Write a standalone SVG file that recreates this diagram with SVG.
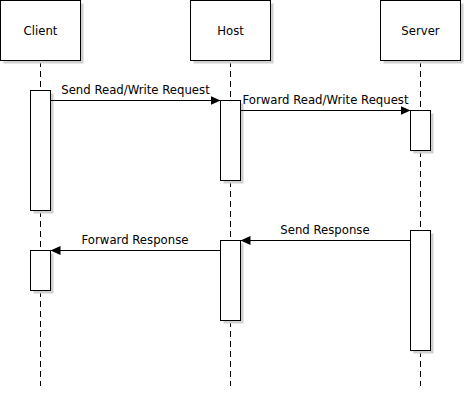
<svg xmlns="http://www.w3.org/2000/svg" width="465" height="405" viewBox="0 0 465 405">
<defs>
<marker id="arr" markerWidth="11" markerHeight="10" refX="10" refY="5" orient="auto" markerUnits="userSpaceOnUse">
<path d="M0,0.5 L10,5 L0,9.5 Z" fill="#000"/>
</marker>
<style>
.box{fill:#fff;stroke:#000;stroke-width:1}
.sh{fill:#d0d0d0;stroke:none}
.life{stroke:#000;stroke-width:1;stroke-dasharray:6 4;fill:none}
.msg{stroke:#000;stroke-width:1;fill:none;marker-end:url(#arr)}
.t{font-family:"DejaVu Sans",sans-serif;font-size:11.7px;fill:#000;text-anchor:middle}
</style>
</defs>
<rect width="465" height="405" fill="#fff"/>
<g id="lifelines">
<line class="life" x1="40.5" y1="61" x2="40.5" y2="386"/>
<line class="life" x1="230.5" y1="61" x2="230.5" y2="386"/>
<line class="life" x1="420.5" y1="61" x2="420.5" y2="386"/>
</g>
<g id="client">
<rect class="sh" x="3.5" y="3.5" width="80" height="60"/>
<rect class="box" x="0.5" y="0.5" width="80" height="60"/>
<text class="t" x="40.5" y="34.5">Client</text>
</g>
<g id="host">
<rect class="sh" x="193.5" y="3.5" width="80" height="60"/>
<rect class="box" x="190.5" y="0.5" width="80" height="60"/>
<text class="t" x="230.5" y="34.5">Host</text>
</g>
<g id="server">
<rect class="sh" x="383.5" y="3.5" width="80" height="60"/>
<rect class="box" x="380.5" y="0.5" width="80" height="60"/>
<text class="t" x="420.5" y="34.5">Server</text>
</g>
<g id="client-act1">
<rect class="sh" x="33.5" y="93.5" width="20" height="120"/>
<rect class="box" x="30.5" y="90.5" width="20" height="120"/>
</g>
<g id="client-act2">
<rect class="sh" x="33.5" y="253.5" width="20" height="40"/>
<rect class="box" x="30.5" y="250.5" width="20" height="40"/>
</g>
<g id="host-act1">
<rect class="sh" x="223.5" y="103.5" width="20" height="80"/>
<rect class="box" x="220.5" y="100.5" width="20" height="80"/>
</g>
<g id="host-act2">
<rect class="sh" x="223.5" y="243.5" width="20" height="80"/>
<rect class="box" x="220.5" y="240.5" width="20" height="80"/>
</g>
<g id="server-act1">
<rect class="sh" x="413.5" y="113.5" width="20" height="40"/>
<rect class="box" x="410.5" y="110.5" width="20" height="40"/>
</g>
<g id="server-act2">
<rect class="sh" x="413.5" y="233.5" width="20" height="120"/>
<rect class="box" x="410.5" y="230.5" width="20" height="120"/>
</g>
<g id="connectors">
<line class="msg" x1="50.5" y1="100.5" x2="220.5" y2="100.5"/>
<line class="msg" x1="240.5" y1="110.5" x2="410.5" y2="110.5"/>
<line class="msg" x1="410.5" y1="240.5" x2="240.5" y2="240.5"/>
<line class="msg" x1="220.5" y1="250.5" x2="50.5" y2="250.5"/>
<text class="t" x="135.5" y="94">Send Read/Write Request</text>
<text class="t" x="325.5" y="104">Forward Read/Write Request</text>
<text class="t" x="325" y="234">Send Response</text>
<text class="t" x="135" y="244">Forward Response</text>
</g>
</svg>
